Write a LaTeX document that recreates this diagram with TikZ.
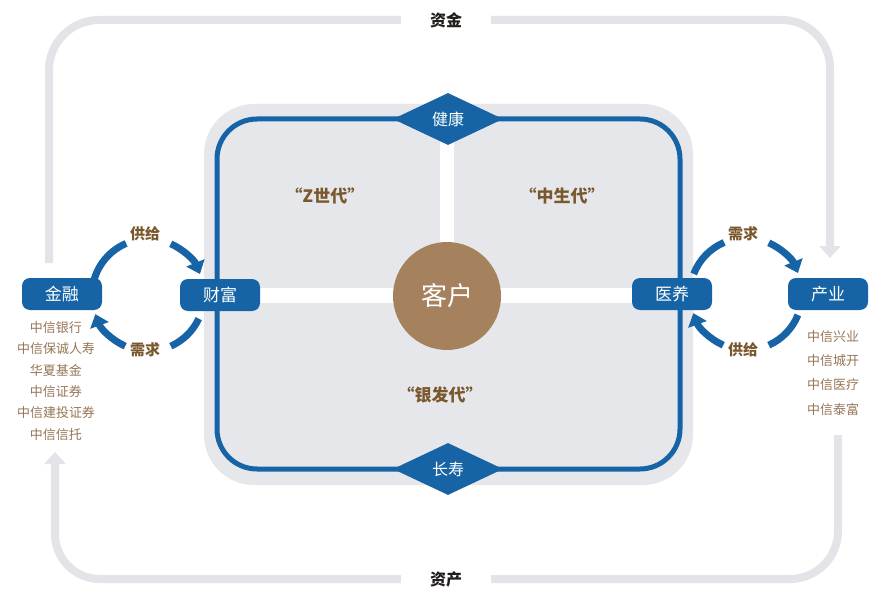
\documentclass[tikz,border=0pt]{standalone}
\usepackage{fontspec}
\setmainfont{Noto Sans CJK SC}
\usetikzlibrary{arrows.meta,shapes.geometric,calc}
\definecolor{cblue}{RGB}{22,100,165}
\definecolor{lgray}{RGB}{230,231,235}
\definecolor{loopgray}{RGB}{227,228,231}
\definecolor{brownlbl}{RGB}{122,88,45}
\definecolor{tanlist}{RGB}{150,118,86}
\definecolor{cbrown}{RGB}{166,129,93}
\definecolor{darktxt}{RGB}{35,30,28}
\begin{document}
\begin{tikzpicture}[x=1pt,y=1pt,yscale=-1,
  bluebox/.style={fill=cblue, text=white, rounded corners=8pt, minimum width=80pt, minimum height=32pt, inner sep=0pt, font=\fontsize{17}{17}\selectfont},
  bluediam/.style={diamond, fill=cblue, text=white, aspect=2.1, minimum width=110pt, minimum height=52pt, inner sep=0pt, font=\fontsize{16}{16}\selectfont},
  looplabel/.style={text=darktxt, minimum width=90pt, inner sep=0pt, font=\fontsize{16}{16}\selectfont\bfseries},
  grayline/.style={draw=loopgray, line width=8pt},
  grayarrow/.style={-{Triangle[width=21pt,length=12pt]}},
  bluearc/.style={draw=cblue, line width=7pt},
  bluearrow/.style={-{Triangle[width=19pt,length=12pt]}},
  flowlabel/.style={text=brownlbl, font=\fontsize{15}{15}\selectfont\bfseries, inner sep=1pt},
  quadlabel/.style={text=brownlbl, font=\fontsize{17}{17}\selectfont\bfseries, inner sep=1pt},
  listtext/.style={text=tanlist, font=\fontsize{13}{13}\selectfont, inner sep=0pt}
]
\useasboundingbox (0,0) rectangle (887,607);
\fill[white] (0,0) rectangle (887,607);

% big gray board
\fill[lgray, rounded corners=50pt] (204,104) rectangle (693,485);
\draw[cblue, line width=5pt, fill=lgray, rounded corners=40pt] (217,119) rectangle (680,469);
% white cross strips
\fill[white] (440,121) rectangle (454,296);
\fill[white] (219,288) rectangle (678,303);

% center
\node[circle, fill=cbrown, minimum size=108pt, inner sep=0pt, text=white, font=\fontsize{26}{26}\selectfont] (kehu) at (447,296) {客户};

% diamonds
\node[bluediam] (jiankang) at (448,119) {健康};
\node[bluediam] (changshou) at (448,469) {长寿};

% quadrant labels
\node[quadlabel] (qz) at (325,196) {“Z世代”};
\node[quadlabel] (qm) at (562,196) {“中生代”};
\node[quadlabel] (qs) at (440,395) {“银发代”};

% boxes
\node[bluebox] (jinrong) at (62,294) {金融};
\node[bluebox] (caifu) at (220,295) {财富};
\node[bluebox] (yiyang) at (672,294) {医养};
\node[bluebox] (chanye) at (828,294) {产业};

% loop labels
\node[looplabel] (zijin) at (446,20) {资金};
\node[looplabel] (zichan) at (446,579) {资产};

% outer gray loop
\coordinate (lstart) at (49,263);
\coordinate (rtip) at (830,258);
\coordinate (ltip) at (55,452);
\coordinate (rstart) at (838,435);
\draw[grayline, rounded corners=50pt] (lstart) |- (zijin.west);
\draw[grayline, grayarrow, rounded corners=48pt] (zijin.east) -| (rtip);
\draw[grayline, grayarrow, rounded corners=45pt] (zichan.west) -| (ltip);
\draw[grayline, rounded corners=48pt] (zichan.east) -| (rstart);

% left flow arcs
\coordinate (cL) at (148,295);
\node[flowlabel] (lsup) at (145,234) {供给};
\node[flowlabel] (ldem) at (145,350) {需求};
\draw[bluearc] (cL) ++(-166:56) arc[start angle=-166, end angle=-113, radius=56];
\draw[bluearc, bluearrow] (cL) ++(-66:56) arc[start angle=-66, end angle=-22, radius=56];
\draw[bluearc] (cL) ++(25:56) arc[start angle=25, end angle=66, radius=56];
\draw[bluearc, bluearrow] (cL) ++(114:56) arc[start angle=114, end angle=160, radius=56];

% right flow arcs
\coordinate (cR) at (746,294);
\node[flowlabel] (rdem) at (743,234) {需求};
\node[flowlabel] (rsup) at (743,350) {供给};
\draw[bluearc] (cR) ++(-159:56) arc[start angle=-159, end angle=-113, radius=56];
\draw[bluearc, bluearrow] (cR) ++(-66:56) arc[start angle=-66, end angle=-22, radius=56];
\draw[bluearc] (cR) ++(22:56) arc[start angle=22, end angle=66, radius=56];
\draw[bluearc, bluearrow] (cR) ++(114:56) arc[start angle=114, end angle=160, radius=56];

% lists
\node[listtext] (l1) at (56,328) {中信银行};
\node[listtext] (l2) at (56,349) {中信保诚人寿};
\node[listtext] (l3) at (56,371) {华夏基金};
\node[listtext] (l4) at (56,392) {中信证券};
\node[listtext] (l5) at (56,413) {中信建投证券};
\node[listtext] (l6) at (56,435) {中信信托};
\node[listtext] (r1) at (833,337) {中信兴业};
\node[listtext] (r2) at (833,361) {中信城开};
\node[listtext] (r3) at (833,385) {中信医疗};
\node[listtext] (r4) at (833,410) {中信泰富};
\end{tikzpicture}
\end{document}
